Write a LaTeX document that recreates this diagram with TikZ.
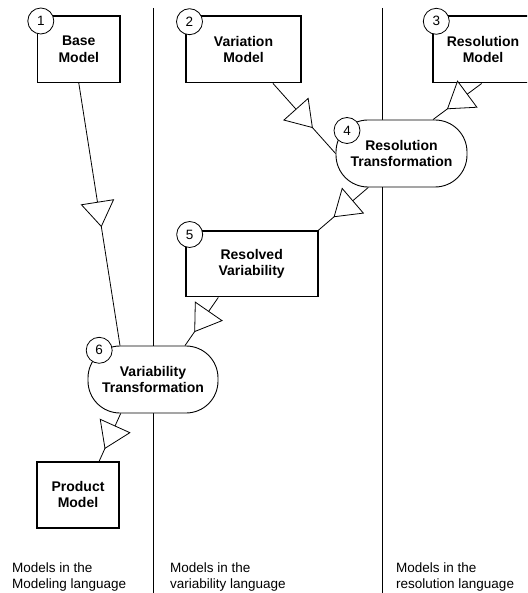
\documentclass[tikz,border=0pt]{standalone}
\usepackage{fontspec}
\setmainfont{Liberation Sans}
\usetikzlibrary{decorations.markings}
\begin{document}
\begin{tikzpicture}[x=1pt,y=-1pt,
  modelbox/.style={draw, line width=1.6pt, fill=white, inner sep=0pt, align=center,
    font=\fontsize{14}{16.5}\selectfont\bfseries},
  transbox/.style={draw, line width=0.9pt, fill=white, inner sep=0pt, align=center,
    rounded corners=32pt, font=\fontsize{14}{16.5}\selectfont\bfseries},
  numc/.style={draw, circle, line width=0.8pt, fill=white, inner sep=0pt, minimum size=26pt,
    font=\fontsize{13.5}{15}\selectfont},
  sepline/.style={line width=0.9pt},
  flow/.style={line width=0.8pt, postaction={decorate}, decoration={markings,
    mark=at position 0.5 with {\draw[line width=0.8pt, fill=white, line join=miter]
      (-12.25pt,-16.25pt) -- (12.25pt,0pt) -- (-12.25pt,16.25pt) -- cycle;}}},
  langlabel/.style={anchor=west, align=left, inner sep=0pt,
    font=\fontsize{13.5}{16.5}\selectfont}
]
\useasboundingbox (0,0) rectangle (527,593);
\clip (0,0) rectangle (527,593);

% separators
\coordinate (s1t) at (153.3,8);
\coordinate (s1b) at (153.3,593);
\coordinate (s2t) at (382.5,8);
\coordinate (s2b) at (382.5,593);
\draw[sepline] (s1t) -- (s1b);
\draw[sepline] (s2t) -- (s2b);

% models
\node[modelbox, minimum width=82.3pt, minimum height=66.3pt] (bm) at (78.8,49.2) {Base\\Model};
\node[modelbox, minimum width=115pt, minimum height=66.7pt] (vm) at (243.5,49.3) {Variation\\Model};
\node[modelbox, minimum width=100pt, minimum height=66.7pt] (rm) at (483,49.3) {Resolution\\Model};
\node[transbox, minimum width=131pt, minimum height=67pt] (rt) at (401.5,153.5) {Resolution\\Transformation};
\node[modelbox, minimum width=132pt, minimum height=65.7pt] (rv) at (251.7,263.8) {Resolved\\Variability};
\node[transbox, minimum width=130pt, minimum height=67pt] (vt) at (153,379.5) {Variability\\Transformation};
\node[modelbox, minimum width=82pt, minimum height=66pt] (pm) at (78,494.7) {Product\\Model};

% number circles
\node[numc] (n1) at (40.8,21) {1};
\node[numc] (n2) at (189.5,21.7) {2};
\node[numc] (n3) at (436.3,21.3) {3};
\node[numc] (n4) at (347,130.5) {4};
\node[numc] (n5) at (189.7,234.5) {5};
\node[numc] (n6) at (99.2,350.3) {6};

% connectors
\draw[flow] (bm.south) -- ([xshift=-33pt]vt.north);
\draw[flow] ([xshift=29.5pt]vm.south) -- (rt.west);
\draw[flow] ([xshift=-1.3pt]rm.south) -- ([xshift=31.5pt]rt.north);
\draw[flow] ([xshift=-33.2pt]rt.south) -- (rv.north east);
\draw[flow] ([xshift=-33.4pt]rv.south) -- ([xshift=32pt]vt.north);
\draw[flow] ([xshift=-32.3pt]vt.south) -- ([xshift=21.3pt]pm.north);

% language labels
\node[langlabel] (l1) at (12,577) {Models in the\\Modeling language};
\node[langlabel] (l2) at (170,577) {Models in the\\variability language};
\node[langlabel] (l3) at (396,577) {Models in the\\resolution language};
\end{tikzpicture}
\end{document}
